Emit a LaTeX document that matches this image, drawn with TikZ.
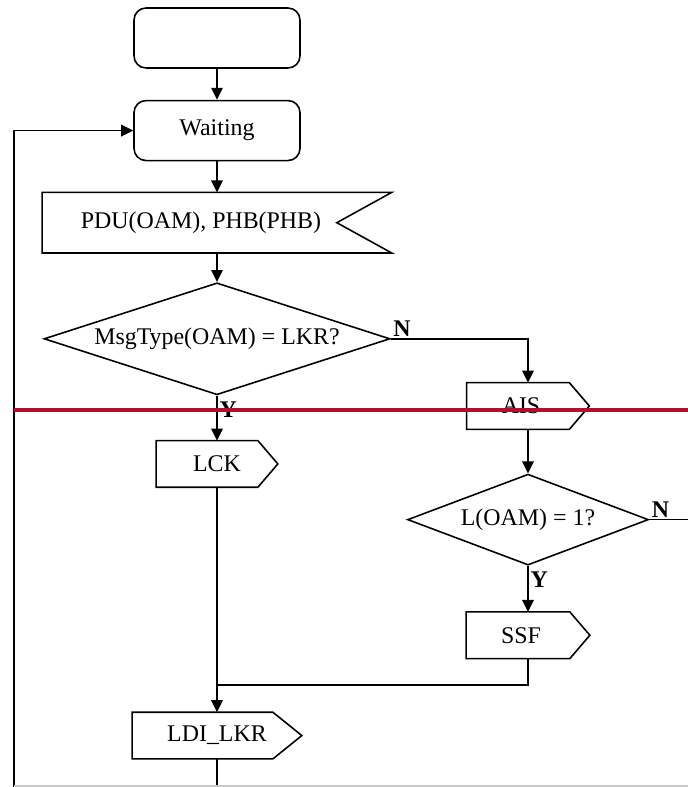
\documentclass[tikz,border=0pt]{standalone}
\usepackage{fontspec}
\setmainfont{Liberation Serif}
\usetikzlibrary{arrows.meta,positioning,shapes.geometric}
\definecolor{markred}{RGB}{178,14,50}
\definecolor{rimgray}{RGB}{200,200,200}

\begin{document}
\begin{tikzpicture}[
    x=0.02cm, y=-0.02cm,
    every node/.style={font=\fontsize{13.6}{15}\selectfont},
    state/.style={rectangle, rounded corners=0.24cm, draw, line width=0.9pt, minimum width=3.32cm, minimum height=1.2cm},
    sendbox/.style={rectangle, inner sep=0pt, minimum height=0.92cm,
      append after command={\pgfextra{\draw[line width=0.9pt]
        (\tikzlastnode.north west) -- ([xshift=-#1]\tikzlastnode.north east) -- (\tikzlastnode.east)
        -- ([xshift=-#1]\tikzlastnode.south east) -- (\tikzlastnode.south west) -- cycle;}}},
    sendbox/.default=0.4cm,
    recvbox/.style={rectangle, inner sep=0pt, minimum height=1.2cm,
      append after command={\pgfextra{\draw[line width=0.9pt]
        (\tikzlastnode.north west) -- (\tikzlastnode.north east) -- ([xshift=-#1]\tikzlastnode.east)
        -- (\tikzlastnode.south east) -- (\tikzlastnode.south west) -- cycle;}}},
    recvbox/.default=1.1cm,
    decision/.style={diamond, draw, line width=0.9pt, inner sep=0pt, aspect=3},
    lbl/.style={font=\fontsize{13.6}{15}\selectfont\bfseries, inner sep=1pt},
    arrow/.style={-{Triangle[length=2.4mm, width=2.3mm]}, line width=0.9pt},
    wire/.style={line width=0.9pt}
  ]
    \useasboundingbox (0,0) rectangle (688,787);

    \node[state] (start) at (217,38) {};
    \node[state, below=0.62cm of start] (wait) {Waiting};
    \node[recvbox, minimum width=6.98cm, below=0.62cm of wait] (pdu) {PDU(OAM), PHB(PHB)\hspace*{0.64cm}};
    \node[decision, minimum width=6.92cm, minimum height=2.24cm, below=0.58cm of pdu] (isLkr) {MsgType(OAM) = LKR?};
    \node[sendbox, minimum width=2.42cm, below=0.9cm of isLkr] (lck) {LCK};
    \node[sendbox, minimum width=2.44cm] (ais) at (528,406) {AIS\hspace*{0.28cm}};
    \node[decision, minimum width=4.82cm, minimum height=1.82cm, below=0.88cm of ais] (isOne) {L(OAM) = 1?};
    \node[sendbox, minimum width=2.46cm, below=0.92cm of isOne] (ssf) {SSF\hspace*{0.28cm}};
    \node[sendbox=0.58cm, minimum width=3.38cm, below=4.5cm of lck] (ldi) {LDI\_LKR};

    \coordinate (loopBot) at (14,787);
    \coordinate (ldiOut) at (217,787);
    \coordinate (merge) at (217,685);
    \coordinate (rimR) at (688,0);

    \draw[arrow] (start) -- (wait);
    \draw[arrow] (wait) -- (pdu);
    \draw[arrow] (pdu) -- (isLkr);
    \draw[arrow] (isLkr) -- node[lbl, anchor=north west, pos=0, yshift=-2pt] (yLkr) {Y} (lck);
    \draw[arrow] (isLkr.east) node[lbl, anchor=south west] (nLkr) {N} -| (ais.north);
    \draw[arrow] (ais) -- (isOne);
    \draw[arrow] (isOne) -- node[lbl, anchor=north west, pos=0, yshift=-2pt] (yOne) {Y} (ssf);
    \draw[wire] (isOne.east) node[lbl, anchor=south west] (nOne) {N} -- (isOne.east -| rimR);
    \draw[wire] (ssf.south) |- (merge);
    \draw[arrow] (lck) -- (ldi);
    \draw[wire] (ldi) -- (ldiOut);
    \draw[arrow] (loopBot) |- (wait.west);

    % marks over the picture
    \draw[markred, line width=2.2pt] (14,410) -- (688,410);
    \draw[rimgray, line width=0.6pt] (14,786) -- (688,786);
  \end{tikzpicture}
\end{document}
